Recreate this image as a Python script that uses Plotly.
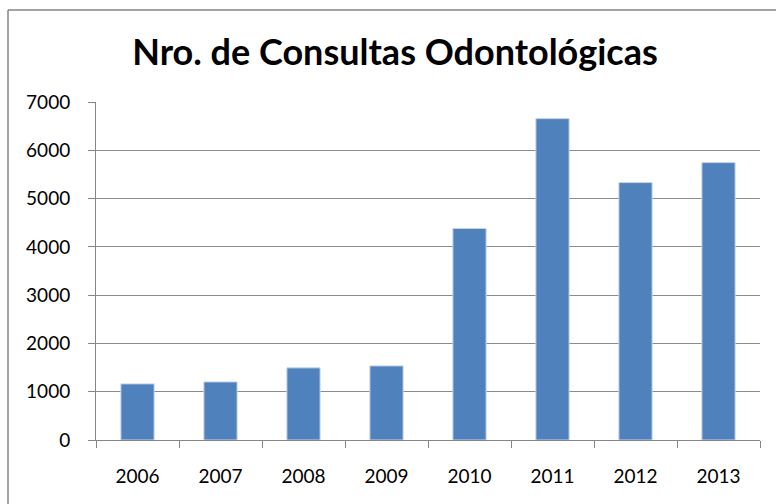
import plotly.graph_objects as go

years = ["2006", "2007", "2008", "2009", "2010", "2011", "2012", "2013"]
consultas = [1162, 1203, 1494, 1535, 4381, 6656, 5331, 5745]
y_ticks = [0, 1000, 2000, 3000, 4000, 5000, 6000, 7000]

W, H = 776, 504
L, T, R, B = 96, 102, 16, 64
pw, ph = W - L - R, H - T - B

fig = go.Figure(go.Bar(
    x=years, y=consultas,
    marker=dict(color="#4F81BD", line=dict(color="#C6D5EA", width=1)),
    width=0.4,
    hoverinfo="skip",
))

# chart-area frame: only its top and left edges fall inside the picture
bx0 = (8 - L) / pw
by1 = (H - 10 - B) / ph
frame = dict(color="#868686", width=1.5)

fig.update_layout(
    width=W, height=H,
    margin=dict(l=L, r=R, t=T, b=B),
    paper_bgcolor="white", plot_bgcolor="white",
    font=dict(family="Lato", color="black", size=19),
    showlegend=False,
    title=dict(text="<b>Nro. de Consultas Odontológicas</b>",
               font=dict(family="Lato", size=36, color="black"),
               x=(395 - L) / pw, xref="paper", xanchor="center",
               y=1 - 52 / H, yref="container", yanchor="middle"),
    xaxis=dict(showline=True, linecolor="#868686", linewidth=1,
               ticks="outside", ticklen=7, tickcolor="#868686",
               showgrid=False, tickson="boundaries",
               ticklabelstandoff=19,
               tickfont=dict(size=19)),
    yaxis=dict(range=[0, 7000], tickvals=y_ticks,
               showline=True, linecolor="#868686", linewidth=1,
               ticks="outside", ticklen=7, tickcolor="#868686",
               showgrid=True, gridcolor="#8C8C8C", gridwidth=1,
               zeroline=False, ticklabelstandoff=14,
               tickfont=dict(size=19)),
    shapes=[
        dict(type="line", xref="paper", yref="paper",
             x0=bx0, x1=1.2, y0=by1, y1=by1, line=frame),
        dict(type="line", xref="paper", yref="paper",
             x0=bx0, x1=bx0, y0=-0.5, y1=by1, line=frame),
    ],
)

fig.write_html(
    "out.html",
    config={"displayModeBar": False, "staticPlot": True},
    post_script="document.body.style.margin='0px';"
                "document.body.style.overflow='hidden';",
)
